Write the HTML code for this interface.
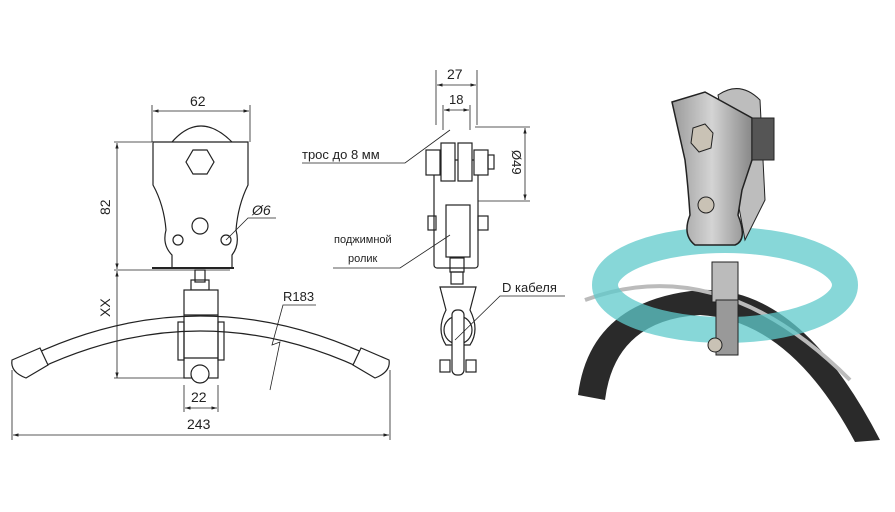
<!DOCTYPE html>
<html><head><meta charset="utf-8"><style>
html,body{margin:0;padding:0;background:#fff;width:895px;height:512px;overflow:hidden}
svg{display:block}
text{font-family:"Liberation Sans","DejaVu Sans",sans-serif;fill:#222}
</style></head><body>
<svg width="895" height="512" viewBox="0 0 895 512" xmlns="http://www.w3.org/2000/svg">
<defs>
<marker id="a" viewBox="0 0 10 10" refX="10" refY="5" markerWidth="7" markerHeight="7" orient="auto-start-reverse"><path d="M0,2 L10,5 L0,8z" fill="#222"/></marker>
<linearGradient id="g" x1="0" x2="1"><stop offset="0" stop-color="#9a9a9a"/><stop offset=".5" stop-color="#d4d4d4"/><stop offset="1" stop-color="#888"/></linearGradient>
</defs>
<g stroke="#222" fill="none" stroke-width="1.2">
<path d="M172,142 Q200,110 232,142" />
<path d="M153,142 H248 V185 Q238,205 236,230 Q240,245 232,255 V268 H172 V255 Q162,245 166,230 Q164,205 153,185 Z" fill="#fff"/>
<line x1="152" y1="268" x2="234" y2="268" stroke-width="2"/>
<polygon points="193,150 207,150 214,162 207,174 193,174 186,162" fill="#fff"/>
<circle cx="200" cy="226" r="8"/>
<circle cx="178" cy="240" r="5"/><circle cx="226" cy="240" r="5"/>
<rect x="195" y="270" width="10" height="12"/>
<rect x="191" y="280" width="18" height="10"/>
<rect x="184" y="290" width="34" height="88" fill="#fff"/>
<line x1="184" y1="315" x2="218" y2="315"/><line x1="184" y1="358" x2="218" y2="358"/>
<rect x="178" y="322" width="6" height="38"/><rect x="218" y="322" width="6" height="38"/>
<circle cx="200" cy="374" r="9" fill="#fff"/>
<path d="M18,362 Q200,270 383,362"/>
<path d="M26,375 Q200,287 375,375"/>
<path d="M12,360 L40,348 L48,365 L26,378 Q10,372 12,360Z" fill="#fff"/>
<path d="M389,360 L361,348 L353,365 L375,378 Q391,372 389,360Z" fill="#fff"/>
<line x1="152" y1="142" x2="152" y2="105" stroke-width=".8"/><line x1="250" y1="142" x2="250" y2="105" stroke-width=".8"/>
<line x1="153" y1="111" x2="249" y2="111" stroke-width=".8" marker-start="url(#a)" marker-end="url(#a)"/>
<line x1="114" y1="142" x2="152" y2="142" stroke-width=".8"/><line x1="114" y1="270" x2="230" y2="270" stroke-width=".8"/>
<line x1="117" y1="143" x2="117" y2="269" stroke-width=".8" marker-start="url(#a)" marker-end="url(#a)"/>
<line x1="117" y1="271" x2="117" y2="378" stroke-width=".8" marker-start="url(#a)" marker-end="url(#a)"/>
<line x1="114" y1="378" x2="190" y2="378" stroke-width=".8"/>
<line x1="184" y1="385" x2="184" y2="412" stroke-width=".8"/><line x1="218" y1="385" x2="218" y2="412" stroke-width=".8"/>
<line x1="185" y1="408" x2="217" y2="408" stroke-width=".8" marker-start="url(#a)" marker-end="url(#a)"/>
<line x1="12" y1="370" x2="12" y2="440" stroke-width=".8"/><line x1="390" y1="370" x2="390" y2="440" stroke-width=".8"/>
<line x1="13" y1="435" x2="389" y2="435" stroke-width=".8" marker-start="url(#a)" marker-end="url(#a)"/>
<path d="M316,305 H283 L272,345 L280,342 L270,390" stroke-width=".8"/>
<path d="M226,240 L248,218 H276" stroke-width=".8"/>
<rect x="434" y="160" width="44" height="108" rx="3" fill="#fff"/>
<rect x="441" y="143" width="14" height="38" fill="#fff"/><rect x="458" y="143" width="14" height="38" fill="#fff"/>
<rect x="426" y="150" width="14" height="25" fill="#fff"/><rect x="474" y="150" width="14" height="25" fill="#fff"/>
<rect x="488" y="155" width="6" height="14"/>
<rect x="446" y="205" width="24" height="52" fill="#fff"/>
<rect x="428" y="216" width="8" height="14"/><rect x="478" y="216" width="10" height="14"/>
<rect x="450" y="258" width="14" height="14"/>
<rect x="451" y="272" width="12" height="12"/>
<path d="M440,287 H476 L470,310 Q480,330 470,345 H446 Q436,330 446,310 Z" fill="#fff"/>
<ellipse cx="458" cy="330" rx="14" ry="14"/>
<rect x="452" y="310" width="12" height="65" rx="5" fill="#fff"/>
<rect x="440" y="360" width="10" height="12"/><rect x="466" y="360" width="10" height="12"/>
<line x1="436" y1="70" x2="436" y2="125" stroke-width=".8"/><line x1="477" y1="70" x2="477" y2="125" stroke-width=".8"/>
<line x1="437" y1="85" x2="476" y2="85" stroke-width=".8" marker-start="url(#a)" marker-end="url(#a)"/>
<line x1="443" y1="105" x2="443" y2="130" stroke-width=".8"/><line x1="470" y1="105" x2="470" y2="130" stroke-width=".8"/>
<line x1="444" y1="110" x2="469" y2="110" stroke-width=".8" marker-start="url(#a)" marker-end="url(#a)"/>
<line x1="475" y1="127" x2="530" y2="127" stroke-width=".8"/><line x1="478" y1="201" x2="530" y2="201" stroke-width=".8"/>
<line x1="525" y1="128" x2="525" y2="200" stroke-width=".8" marker-start="url(#a)" marker-end="url(#a)"/>
<path d="M302,163 H405 L450,130" stroke-width=".8"/>
<path d="M333,268 H400 L450,235" stroke-width=".8"/>
<path d="M565,296 H500 L455,340" stroke-width=".8"/>
</g>
<g font-size="14">
<text x="190" y="106">62</text>
<text transform="translate(110,215) rotate(-90)">82</text>
<text transform="translate(110,317) rotate(-90)">XX</text>
<text x="191" y="402">22</text>
<text x="187" y="429">243</text>
<text x="283" y="301" font-size="13">R183</text>
<text x="252" y="215" font-style="italic">Ø6</text>
<text x="447" y="79">27</text>
<text x="449" y="104" font-size="13">18</text>
<text transform="translate(512,150) rotate(90)" font-size="13">Ø49</text>
<text x="302" y="159" font-size="13">трос до 8 мм</text>
<text x="334" y="243" font-size="11">поджимной</text>
<text x="348" y="262" font-size="11">ролик</text>
<text x="502" y="292" font-size="13">D кабеля</text>
</g>
<g>
<path d="M578,395 Q590,300 700,290 Q800,285 880,440 L855,442 Q790,320 700,315 Q615,320 605,400 Z" fill="#2a2a2a"/>
<path d="M585,300 Q720,250 850,380" stroke="#bbb" stroke-width="4" fill="none"/>
<ellipse cx="725" cy="285" rx="120" ry="45" fill="none" stroke="#5fc9cb" stroke-width="26" opacity=".75"/>
<path d="M718,95 Q740,80 760,100 L765,200 L745,240 Z" fill="#bdbdbd" stroke="#222"/>
<path d="M672,102 L705,92 L752,118 L752,160 L742,190 L738,215 Q748,240 735,245 L695,245 Q682,235 690,215 Q688,185 685,160 Z" fill="url(#g)" stroke="#222" stroke-width="1.5"/>
<rect x="752" y="118" width="22" height="42" fill="#555" stroke="#222"/>
<polygon points="693,128 705,124 713,133 711,148 699,152 691,143" fill="#c9c2b5" stroke="#222"/>
<circle cx="706" cy="205" r="8" fill="#c9c2b5" stroke="#222"/>
<rect x="712" y="262" width="26" height="40" fill="#bbb" stroke="#222"/>
<rect x="716" y="300" width="22" height="55" fill="#999" stroke="#222"/>
<circle cx="715" cy="345" r="7" fill="#c9c2b5" stroke="#222"/>
</g>
</svg>
</body></html>
